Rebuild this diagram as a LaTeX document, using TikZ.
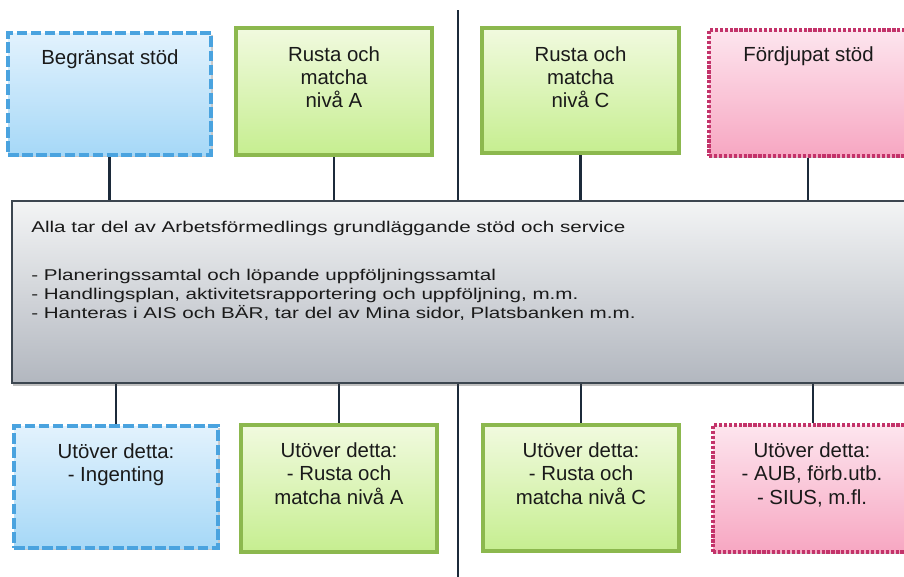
\documentclass[tikz,border=0pt]{standalone}
\usepackage{fontspec}
\setmainfont{Liberation Sans}
\newfontfamily\widefont[FakeStretch=1.32]{Liberation Sans}
\usetikzlibrary{shadows,backgrounds}
\definecolor{bluebd}{HTML}{4AA3DF}
\definecolor{bluetop}{HTML}{E2F2FD}
\definecolor{bluebot}{HTML}{A6D8F7}
\definecolor{greenbd}{HTML}{8CB84E}
\definecolor{greentop}{HTML}{F1FADF}
\definecolor{greenbot}{HTML}{C6EE90}
\definecolor{pinkbd}{HTML}{C3336A}
\definecolor{pinktop}{HTML}{FDE5EE}
\definecolor{pinkbot}{HTML}{F7A7C2}
\definecolor{graytop}{HTML}{F3F4F5}
\definecolor{graybot}{HTML}{B2B7BF}
\definecolor{graybd}{HTML}{3C4650}
\definecolor{conn}{HTML}{1C2A3A}
\definecolor{txtc}{HTML}{1A1A1A}
\newcommand\firstl{\rule{0pt}{15pt}}
\newcommand\firstg{\rule{0pt}{12pt}}
\begin{document}
\begin{tikzpicture}[x=0.75pt,y=-0.75pt,
  boxbase/.style={rectangle, inner sep=0pt,
    drop shadow={shadow xshift=1.2pt, shadow yshift=-1.8pt, opacity=0.3, fill=black!70}},
  bluebox/.style={boxbase, draw=bluebd, line width=2.6pt, dash pattern=on 8pt off 2.6pt,
    top color=bluetop, bottom color=bluebot},
  greenbox/.style={boxbase, draw=greenbd, line width=3pt,
    top color=greentop, bottom color=greenbot},
  pinkbox/.style={boxbase, draw=pinkbd, line width=2.6pt, dash pattern=on 2.4pt off 1.3pt,
    top color=pinktop, bottom color=pinkbot},
  graybox/.style={rectangle, inner sep=0pt, draw=graybd, line width=1.1pt,
    top color=graytop, bottom color=graybot,
    drop shadow={shadow xshift=0.8pt, shadow yshift=-2.5pt, opacity=0.35, fill=black!70}},
  toptxt/.style={inner sep=0pt, anchor=north, align=center, text=txtc,
    font=\fontsize{15.3}{17.25}\selectfont},
  bottxt/.style={inner sep=0pt, anchor=north, align=center, text=txtc,
    font=\fontsize{15.3}{17.6}\selectfont},
  graytxt/.style={inner sep=0pt, anchor=north west, align=left, text=txtc,
    font=\widefont\fontsize{11.7}{14.25}\selectfont},
  connector/.style={draw=conn, line width=1.9pt},
  divider/.style={draw=conn, line width=1.6pt}
]
\useasboundingbox (0,0) rectangle (904,576);
\clip (0,0) rectangle (904,576);

% top boxes
\node[bluebox, minimum width=203*0.75pt, minimum height=122*0.75pt] (t1) at (109.5,94) {};
\node[greenbox, minimum width=196*0.75pt, minimum height=127*0.75pt] (t2) at (334,91.5) {};
\node[greenbox, minimum width=197*0.75pt, minimum height=125*0.75pt] (t3) at (580.5,90.5) {};
\node[pinkbox, minimum width=198*0.75pt, minimum height=126*0.75pt] (t4) at (808,93) {};

% central box
\node[graybox, minimum width=908*0.75pt, minimum height=182*0.75pt] (base) at (466,292) {};

% bottom boxes
\node[bluebox, minimum width=204*0.75pt, minimum height=122*0.75pt] (b1) at (116,487) {};
\node[greenbox, minimum width=196*0.75pt, minimum height=127*0.75pt] (b2) at (339,488.5) {};
\node[greenbox, minimum width=196*0.75pt, minimum height=126*0.75pt] (b3) at (581,488) {};
\node[pinkbox, minimum width=200*0.75pt, minimum height=127*0.75pt] (b4) at (813,488.5) {};

% texts
\node[toptxt] (t1txt) at (110,44) {\firstl Begränsat stöd};
\node[toptxt] (t2txt) at (334,41) {\firstl Rusta och\\matcha\\nivå A};
\node[toptxt] (t3txt) at (580.5,41) {\firstl Rusta och\\matcha\\nivå C};
\node[toptxt] (t4txt) at (808.5,41) {\firstl Fördjupat stöd};

\node[graytxt] (basetxt) at (31,216) {\firstg Alla tar del av Arbetsförmedlings grundläggande stöd och service\\[21.75pt]
- Planeringssamtal och löpande uppföljningssamtal\\
- Handlingsplan, aktivitetsrapportering och uppföljning, m.m.\\
- Hanteras i AIS och BÄR, tar del av Mina sidor, Platsbanken m.m.};

\node[bottxt] (b1txt) at (116,438) {\firstl Utöver detta:\\- Ingenting};
\node[bottxt] (b2txt) at (339,437) {\firstl Utöver detta:\\- Rusta och\\matcha nivå A};
\node[bottxt] (b3txt) at (581,437) {\firstl Utöver detta:\\- Rusta och\\matcha nivå C};
\node[bottxt] (b4txt) at (812,437) {\firstl Utöver detta:\\- AUB, förb.utb.\\- SIUS, m.fl.};

\coordinate (dtop) at (458,10);
\coordinate (dbot) at (458,580);

\begin{scope}[on background layer]
  \fill[white] (0,0) rectangle (904,576);
  \draw[divider] (dtop) -- (dbot);
  \draw[connector] (t1.south) -- (t1.south |- base.north);
  \draw[connector] (t2.south) -- (t2.south |- base.north);
  \draw[connector] (t3.south) -- (t3.south |- base.north);
  \draw[connector] (t4.south) -- (t4.south |- base.north);
  \draw[connector] (b1.north) -- (b1.north |- base.south);
  \draw[connector] (b2.north) -- (b2.north |- base.south);
  \draw[connector] (b3.north) -- (b3.north |- base.south);
  \draw[connector] (b4.north) -- (b4.north |- base.south);
\end{scope}
\end{tikzpicture}
\end{document}
